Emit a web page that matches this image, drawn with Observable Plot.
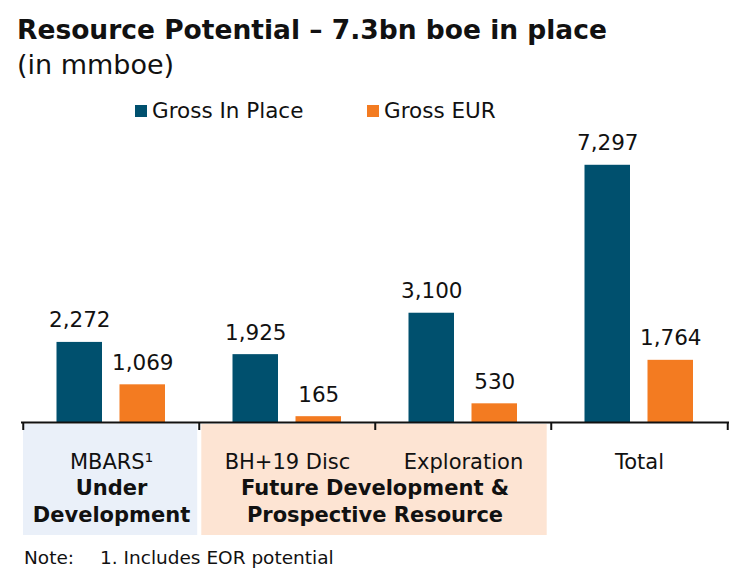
<!DOCTYPE html>
<html><head><meta charset="utf-8">
<script src="https://cdn.jsdelivr.net/npm/d3@7"></script>
<script src="https://cdn.jsdelivr.net/npm/@observablehq/plot@0.6"></script>
<style>
body{margin:0;background:#fff;font-family:"DejaVu Sans",Verdana,sans-serif;color:#111}
#wrap{position:relative;width:741px;height:577px;overflow:hidden}
#wrap svg{position:absolute;left:0;top:0}
.t{position:absolute;white-space:pre;line-height:1}
.sq{position:absolute;width:12px;height:12px}
</style></head><body><div id="wrap"></div>
<script>
const categories = ["MBARS", "BH+19 Disc", "Exploration", "Total"];
const tickLabels = ["MBARS\u00B9", "BH+19 Disc", "Exploration", "Total"];
const series = ["Gross In Place", "Gross EUR"];
const grossInPlace = [2272, 1925, 3100, 7297];
const grossEUR = [1069, 165, 530, 1764];
const colors = ["#00506e", "#f37b21"];
const groupLabels = ["Under\nDevelopment", "Future Development &\nProspective Resource"];
const titleText = "Resource Potential \u2013 7.3bn boe in place";
const subtitleText = "(in mmboe)";
const noteLabel = "Note:";
const noteText = "1. Includes EOR potential";

const inPlace = categories.map((c, i) => ({cat: c, value: grossInPlace[i]}));
const eur = categories.map((c, i) => ({cat: c, value: grossEUR[i]}));
const fmt = d3.format(",");
const ink = "#111";
const half = 88.25;

const chart = Plot.plot({
  width: 741, height: 577,
  marginTop: 140, marginBottom: 155, marginLeft: 22, marginRight: 13,
  x: {type: "band", domain: categories, padding: 0, axis: null},
  y: {domain: [0, 8000], axis: null},
  style: {fontFamily: "'DejaVu Sans', Verdana, sans-serif", background: "transparent", color: ink},
  marks: [
    Plot.rect([categories[0]], {x: d => d, y1: 0, y2: 0, insetTop: 2, insetBottom: -113, insetLeft: 0, insetRight: 1.8, fill: "#eaf0f9"}),
    Plot.rect([categories[1]], {x: d => d, y1: 0, y2: 0, insetTop: 2, insetBottom: -113, insetLeft: 2.3, insetRight: 0, fill: "#fde4d3"}),
    Plot.rect([categories[2]], {x: d => d, y1: 0, y2: 0, insetTop: 2, insetBottom: -113, insetLeft: 0, insetRight: 4.3, fill: "#fde4d3"}),
    Plot.barY(inPlace, {x: "cat", y: "value", fill: colors[0], insetLeft: 33.5, insetRight: 97}),
    Plot.barY(eur, {x: "cat", y: "value", fill: colors[1], insetLeft: 96.5, insetRight: 34}),
    Plot.ruleY([0], {stroke: ink, strokeWidth: 2, strokeLinecap: "square"}),
    Plot.ruleX(categories, {x: d => d, dx: -half, y1: 0, y2: 0, insetBottom: -8, stroke: ink, strokeWidth: 2}),
    Plot.ruleX([categories[3]], {x: d => d, dx: half, y1: 0, y2: 0, insetBottom: -8, stroke: ink, strokeWidth: 2}),
    Plot.text(inPlace, {x: "cat", y: "value", text: d => fmt(d.value), dx: -31.75, dy: -15, lineAnchor: "bottom", fontSize: 21.5, fill: ink}),
    Plot.text(eur, {x: "cat", y: "value", text: d => fmt(d.value), dx: 31.25, dy: -15, lineAnchor: "bottom", fontSize: 21.5, fill: ink}),
    Plot.text(categories, {x: d => d, text: (d, i) => tickLabels[i], frameAnchor: "bottom", lineAnchor: "bottom", dy: 46, fontSize: 21, fill: ink}),
    Plot.text([categories[0]], {x: d => d, text: () => groupLabels[0], frameAnchor: "bottom", lineAnchor: "bottom", dy: 99, lineHeight: 1.24, fontSize: 21, fontWeight: "bold", fill: ink}),
    Plot.text([categories[1]], {x: d => d, text: () => groupLabels[1], dx: 87.5, frameAnchor: "bottom", lineAnchor: "bottom", dy: 99, lineHeight: 1.24, fontSize: 21, fontWeight: "bold", fill: ink})
  ]
});

const wrap = document.getElementById("wrap");
wrap.appendChild(chart);

function addText(txt, left, top, size, bold) {
  const d = document.createElement("div");
  d.className = "t";
  d.textContent = txt;
  d.style.left = left + "px"; d.style.top = top + "px";
  d.style.fontSize = size + "px";
  if (bold) d.style.fontWeight = "bold";
  wrap.appendChild(d);
}
addText(titleText, 17, 17, 26.5, true);
addText(subtitleText, 17, 51, 27, false);
const legendPos = [135, 367];
series.forEach((s, i) => {
  const sq = document.createElement("div");
  sq.className = "sq";
  sq.style.left = legendPos[i] + "px"; sq.style.top = "105px";
  sq.style.background = colors[i];
  wrap.appendChild(sq);
  addText(s, legendPos[i] + 17, 100, 21.5, false);
});
addText(noteLabel, 24, 549, 18.5, false);
addText(noteText, 100, 549, 18.5, false);
</script></body></html>
